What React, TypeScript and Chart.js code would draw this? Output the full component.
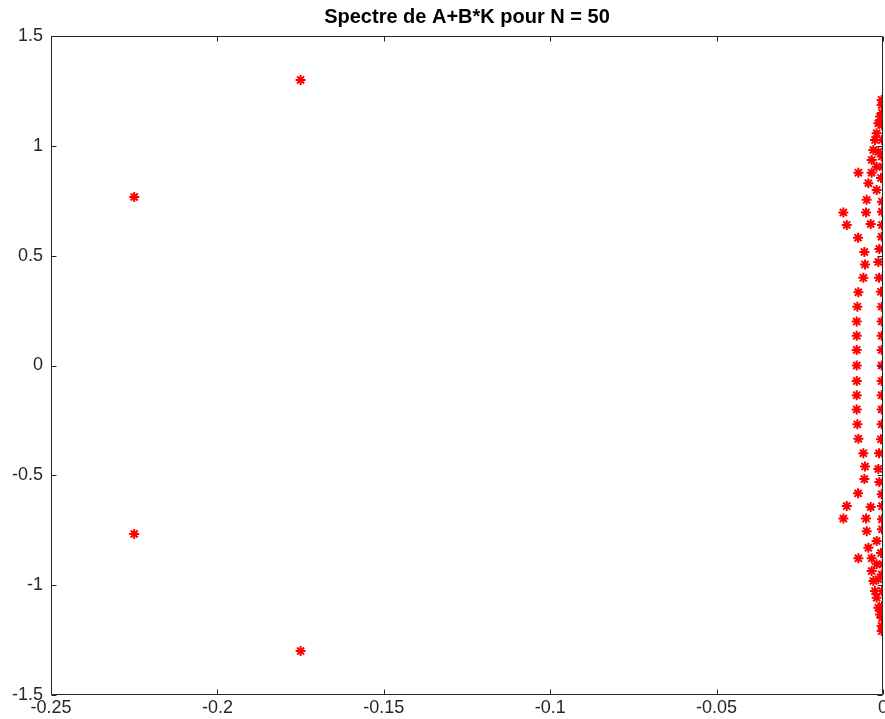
import React, { useEffect, useRef } from "react";
import { Chart, registerables } from "chart.js";
Chart.register(...registerables);

const titleText = "Spectre de A+B*K pour N = 50";
const xTicks = [-0.25, -0.2, -0.15, -0.1, -0.05, 0];
const yTicks = [-1.5, -1, -0.5, 0, 0.5, 1, 1.5];

// Eigenvalues: real parts
const eigRe = [
  -0.175, -0.225, -0.0119, -0.0109, -0.0074, -0.0034, -0.0044, -0.0049, -0.0051, -0.0037,
  -0.0075, -0.0056, -0.0054, -0.0059, -0.0074, -0.0077, -0.0079, -0.0079, -0.0079, -0.0019,
  -0.0011, -0.0004, -0.0014, -0.0012, -0.0006, -0.0004, -0.0004, -0.0004, -0.0004, -0.0004,
  -0.0004, -0.0009, -0.0014, -0.0019, -0.0024, -0.0029, -0.0034, -0.0004, -0.0001, -0.0003,
  -0.0003, -0.0006, -0.0003, -0.0003, -0.0003, -0.0003, -0.0019, -0.0014,
  -0.0079, -0.0004,
  -0.175, -0.225, -0.0119, -0.0109, -0.0074, -0.0034, -0.0044, -0.0049, -0.0051, -0.0037,
  -0.0075, -0.0056, -0.0054, -0.0059, -0.0074, -0.0077, -0.0079, -0.0079, -0.0079, -0.0019,
  -0.0011, -0.0004, -0.0014, -0.0012, -0.0006, -0.0004, -0.0004, -0.0004, -0.0004, -0.0004,
  -0.0004, -0.0009, -0.0014, -0.0019, -0.0024, -0.0029, -0.0034, -0.0004, -0.0001, -0.0003,
  -0.0003, -0.0006, -0.0003, -0.0003, -0.0003, -0.0003, -0.0019, -0.0014,
];
// Eigenvalues: imaginary parts
const eigIm = [
  1.30, 0.767, 0.697, 0.640, 0.878, 0.878, 0.830, 0.754, 0.697, 0.644,
  0.582, 0.517, 0.460, 0.399, 0.333, 0.268, 0.200, 0.135, 0.071, 0.799,
  0.530, 0.586, 0.471, 0.400, 0.336, 0.268, 0.200, 0.135, 0.071, 1.209,
  1.186, 1.133, 1.103, 1.057, 1.027, 0.981, 0.936, 0.951, 0.905, 1.095,
  1.027, 0.854, 0.746, 1.150, 0.700, 0.640, 0.905, 0.973,
  0, 0,
  -1.30, -0.767, -0.697, -0.640, -0.878, -0.878, -0.830, -0.754, -0.697, -0.644,
  -0.582, -0.517, -0.460, -0.399, -0.333, -0.268, -0.200, -0.135, -0.071, -0.799,
  -0.530, -0.586, -0.471, -0.400, -0.336, -0.268, -0.200, -0.135, -0.071, -1.209,
  -1.186, -1.133, -1.103, -1.057, -1.027, -0.981, -0.936, -0.951, -0.905, -1.095,
  -1.027, -0.854, -0.746, -1.150, -0.700, -0.640, -0.905, -0.973,
];

const FONT = "'Liberation Sans', Arial, Helvetica, sans-serif";
const AXIS_COLOR = "#262626";

export default function App() {
  const ref = useRef<HTMLCanvasElement>(null);
  useEffect(() => {
    document.body.style.margin = "0";
    const boxPlugin = {
      id: "boxTicks",
      afterDraw(chart: any) {
        const { ctx, chartArea: a, scales } = chart;
        ctx.save();
        ctx.strokeStyle = AXIS_COLOR;
        ctx.lineWidth = 1;
        const L = Math.round(a.left) + 0.5;
        const R = Math.round(a.right) - 0.5;
        const T = Math.round(a.top) + 0.5;
        const B = Math.round(a.bottom) - 0.5;
        ctx.beginPath();
        ctx.moveTo(L, T); ctx.lineTo(R, T); ctx.lineTo(R, B); ctx.lineTo(L, B); ctx.closePath();
        ctx.stroke();
        const tl = 5;
        ctx.beginPath();
        xTicks.forEach((v) => {
          const px = Math.round(scales.x.getPixelForValue(v)) + 0.5;
          ctx.moveTo(px, B); ctx.lineTo(px, B - tl);
          ctx.moveTo(px, T); ctx.lineTo(px, T + tl);
        });
        yTicks.forEach((v) => {
          const py = Math.round(scales.y.getPixelForValue(v)) + 0.5;
          ctx.moveTo(L, py); ctx.lineTo(L + tl, py);
          ctx.moveTo(R, py); ctx.lineTo(R - tl, py);
        });
        ctx.stroke();
        ctx.restore();
      },
    };
    const chart = new Chart(ref.current!, {
      type: "scatter",
      data: {
        datasets: [
          {
            data: eigRe.map((x, i) => ({ x, y: eigIm[i] })),
            pointStyle: "star",
            pointRadius: 5,
            pointHoverRadius: 5,
            borderWidth: 2,
            borderColor: "#ff0000",
            backgroundColor: "#ff0000",
            showLine: false,
          },
        ],
      },
      options: {
        responsive: false,
        animation: false,
        layout: { autoPadding: false, padding: { left: 0, right: 2, top: 0, bottom: 0 } },
        plugins: {
          legend: { display: false },
          tooltip: { enabled: false },
          title: {
            display: true,
            text: titleText,
            fullSize: false,
            color: "#000",
            font: { family: FONT, size: 20, weight: "bold" },
            padding: { top: 5, bottom: 7 },
          },
        },
        scales: {
          x: {
            type: "linear",
            min: -0.25,
            max: 0,
            grid: { display: false, drawTicks: false, tickLength: 0 },
            border: { display: false },
            afterBuildTicks: (s: any) => { s.ticks = xTicks.map((v) => ({ value: v })); },
            afterFit: (s: any) => { s.height = 24; s.paddingLeft = 0; s.paddingRight = 0; },
            ticks: {
              autoSkip: false,
              maxRotation: 0,
              padding: 2,
              color: AXIS_COLOR,
              font: { family: FONT, size: 18 },
              callback: (v: any) => String(v),
            },
          },
          y: {
            type: "linear",
            min: -1.5,
            max: 1.5,
            grid: { display: false, drawTicks: false, tickLength: 0 },
            border: { display: false },
            afterBuildTicks: (s: any) => { s.ticks = yTicks.map((v) => ({ value: v })); },
            afterFit: (s: any) => { s.width = 51; s.paddingTop = 0; s.paddingBottom = 0; },
            ticks: {
              autoSkip: false,
              padding: 8,
              color: AXIS_COLOR,
              font: { family: FONT, size: 18 },
              callback: (v: any) => String(v),
            },
          },
        },
      },
      plugins: [boxPlugin],
    } as any);
    return () => chart.destroy();
  }, []);
  return (
    <div style={{ width: 885, height: 719 }}>
      <canvas ref={ref} width={885} height={719} />
    </div>
  );
}
